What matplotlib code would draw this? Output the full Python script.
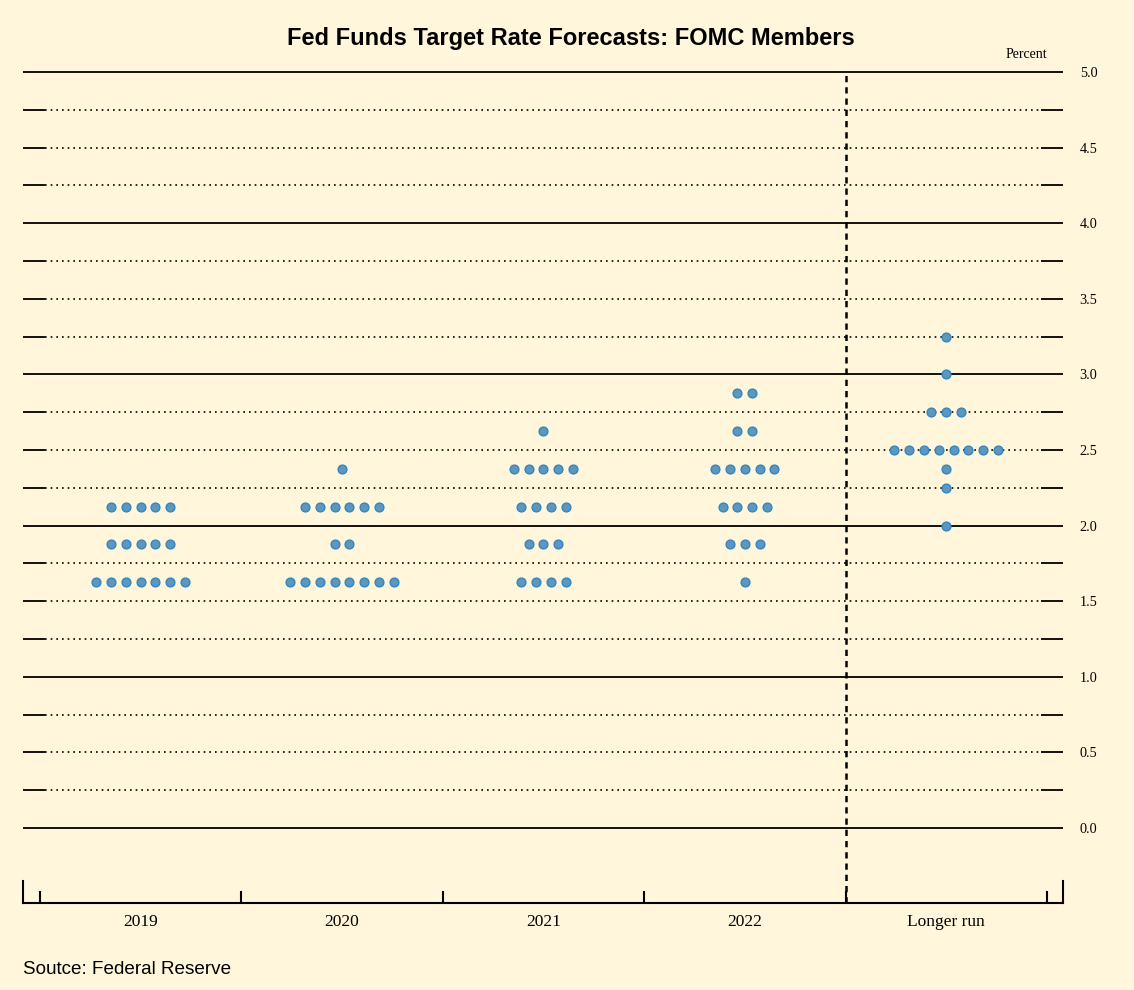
import numpy as np
import matplotlib
matplotlib.use('Agg')
import matplotlib.pyplot as plt

# dot plot data: (rate, number of participants) per horizon
categories = ['2019', '2020', '2021', '2022', 'Longer run']
rates_2019 = [1.625, 1.875, 2.125]
counts_2019 = [7, 5, 5]
rates_2020 = [1.625, 1.875, 2.125, 2.375]
counts_2020 = [8, 2, 6, 1]
rates_2021 = [1.625, 1.875, 2.125, 2.375, 2.625]
counts_2021 = [4, 3, 4, 5, 1]
rates_2022 = [1.625, 1.875, 2.125, 2.375, 2.625, 2.875]
counts_2022 = [1, 3, 4, 5, 2, 2]
rates_lr = [2.0, 2.25, 2.375, 2.5, 2.75, 3.0, 3.25]
counts_lr = [1, 1, 1, 8, 3, 1, 1]

all_rates = [rates_2019, rates_2020, rates_2021, rates_2022, rates_lr]
all_counts = [counts_2019, counts_2020, counts_2021, counts_2022, counts_lr]

y_labels = ['0.0', '0.5', '1.0', '1.5', '2.0', '2.5', '3.0', '3.5', '4.0', '4.5', '5.0']
y_ticks = [float(s) for s in y_labels]

bg = '#fff6dc'
dot_face = '#5e96bd'
dot_edge = '#2b85c0'

fig = plt.figure(figsize=(11.34, 9.9), dpi=100, facecolor=bg)
ax = fig.add_axes([0.0203, 0.0879, 0.9171, 0.8394])
ax.set_facecolor(bg)

x0, x1 = -0.584, 4.58
y0, y1 = -0.496, 5.0
ax.set_xlim(x0, x1)
ax.set_ylim(y0, y1)

# horizontal grid every quarter point
seg = 0.109
for lev in np.arange(0, 5.01, 0.25):
    if abs(lev - round(lev)) < 1e-9:
        ax.hlines(lev, x0, x1, colors='black', lw=1.3, zorder=1, clip_on=False)
    else:
        ax.hlines(lev, x0 + seg, x1 - seg, colors='black', lw=1.2,
                  linestyles=(0, (1, 2.4)), zorder=1)
        ax.hlines(lev, x0, x0 + seg, colors='black', lw=1.3, zorder=1)
        ax.hlines(lev, x1 - seg, x1, colors='black', lw=1.3, zorder=1)

# separator before longer run
ax.vlines(3.5, y0, y1, colors='black', lw=1.8, linestyles=(0, (2.5, 2)), zorder=2,
          clip_on=False)

# dots
step = 0.0737
for i, (rs, cs) in enumerate(zip(all_rates, all_counts)):
    for r, c in zip(rs, cs):
        xs = i + (np.arange(c) - (c - 1) / 2) * step
        ax.plot(xs, [r] * c, 'o', ms=6.4, mfc=dot_face, mec=dot_edge, mew=0.9,
                zorder=3, clip_on=False)

# axes styling
for s in ['top', 'left', 'right']:
    ax.spines[s].set_visible(False)
ax.spines['bottom'].set_linewidth(1.5)
ax.set_xticks(np.arange(-0.5, 4.6, 1.0))
ax.set_xticklabels([])
ax.tick_params(axis='x', which='major', direction='in', length=9, width=1.5)
ax.set_xticks(range(len(categories)), minor=True)
ax.set_xticklabels(categories, minor=True, family='Liberation Serif', fontsize=12.5)
ax.tick_params(axis='x', which='minor', length=0, pad=8)

# taller end ticks
ax.plot([x0, x0], [y0, y0 + 0.145], color='black', lw=1.5, clip_on=False)
ax.plot([x1, x1], [y0, y0 + 0.145], color='black', lw=1.5, clip_on=False)

ax.yaxis.tick_right()
ax.set_yticks(y_ticks)
ax.set_yticklabels(y_labels, family='Liberation Serif', fontsize=10.3)
ax.tick_params(axis='y', length=0, pad=12)

ax.text(4.5, 5.07, 'Percent', ha='right', va='bottom', family='Liberation Serif',
        fontsize=10)

fig.text(0.503, 0.961, 'Fed Funds Target Rate Forecasts: FOMC Members', ha='center',
         va='center', family='Liberation Sans', fontweight='bold', fontsize=17)
fig.text(0.0203, 0.021, 'Soutce: Federal Reserve', ha='left', va='center',
         family='Liberation Sans', fontsize=13.6)

fig.savefig('out.png', dpi=100, facecolor=bg)
